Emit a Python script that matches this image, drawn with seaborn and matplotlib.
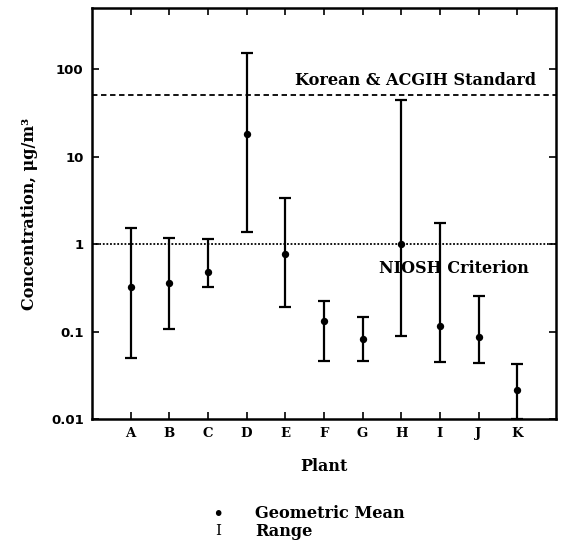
import numpy as np
import pandas as pd
import matplotlib
matplotlib.use('Agg')
import matplotlib.pyplot as plt
import seaborn as sns

# values (ug/m3)
plants = ['A', 'B', 'C', 'D', 'E', 'F', 'G', 'H', 'I', 'J', 'K']
geo_mean = [0.32, 0.36, 0.48, 18, 0.77, 0.132, 0.082, 1.0, 0.115, 0.087, 0.0215]
range_low = [0.05, 0.107, 0.32, 1.37, 0.19, 0.046, 0.046, 0.089, 0.045, 0.044, 0.0101]
range_high = [1.52, 1.17, 1.14, 152, 3.35, 0.223, 0.146, 44, 1.74, 0.255, 0.042]

korean_std = 50
niosh_crit = 1.0

df = pd.DataFrame({'plant': plants, 'gm': geo_mean,
                   'lo': range_low, 'hi': range_high})
df['pos'] = np.arange(1, len(plants) + 1)

sns.set_style('ticks', {'axes.edgecolor': 'black', 'text.color': 'black',
                        'xtick.color': 'black', 'ytick.color': 'black',
                        'axes.labelcolor': 'black'})
serif = {'family': 'DejaVu Serif', 'weight': 'bold'}

fig = plt.figure(figsize=(5.66, 5.51), dpi=100)
ax = fig.add_axes([0.1625, 0.2396, 0.8195, 0.7459])

# ranges
ax.errorbar(df['pos'], df['gm'],
            yerr=[df['gm'] - df['lo'], df['hi'] - df['gm']],
            fmt='none', ecolor='black', elinewidth=1.6, capsize=4.5,
            capthick=1.6, zorder=3)
# geometric means
sns.scatterplot(data=df, x='pos', y='gm', ax=ax, color='black', s=28,
                marker='o', edgecolor='black', linewidth=0, zorder=4,
                legend=False)

ax.axhline(korean_std, color='black', lw=1.3, ls=(0, (3, 2)), zorder=2)
ax.axhline(niosh_crit, color='black', lw=1.3, ls=(0, (1, 1)), zorder=2)

ax.text(11.5, 75, 'Korean & ACGIH Standard', ha='right', va='center',
        fontsize=11.6, fontdict=serif)
ax.text(11.3, 0.53, 'NIOSH Criterion', ha='right', va='center',
        fontsize=11.5, fontdict=serif)

ax.set_yscale('log')
ax.set_ylim(0.01, 500)
ax.set_xlim(0, 12)
ax.set_yticks([0.01, 0.1, 1, 10, 100])
ax.set_yticklabels(['0.01', '0.1', '1', '10', '100'],
                   fontsize=9.5, fontweight='bold', family='DejaVu Sans')
ax.yaxis.set_minor_locator(matplotlib.ticker.NullLocator())
ax.set_xticks(df['pos'])
ax.set_xticklabels(plants, fontsize=9.5, **serif)

ax.tick_params(direction='in', length=5, width=1.2, top=True, right=True,
               labeltop=False, labelright=False, pad=6)
for s in ax.spines.values():
    s.set_linewidth(1.8)
    s.set_color('black')

ax.set_xlabel('Plant', fontsize=11.5, labelpad=13, **serif)
ax.set_ylabel('Concentration, \u03bcg/m\u00b3', fontsize=11.5, labelpad=9, **serif)

# legend drawn as text below the plot
fig.text(218 / 566, 1 - 514 / 551, '\u2022', ha='center', va='center', fontsize=14)
fig.text(218 / 566, 1 - 531 / 551, 'I', ha='center', va='center',
         fontsize=11, family='DejaVu Serif')
fig.text(255 / 566, 1 - 514 / 551, 'Geometric Mean', ha='left', va='center',
         fontsize=11.6, **serif)
fig.text(255 / 566, 1 - 531 / 551, 'Range', ha='left', va='center',
         fontsize=11.6, **serif)

fig.savefig('out.png', dpi=100)
